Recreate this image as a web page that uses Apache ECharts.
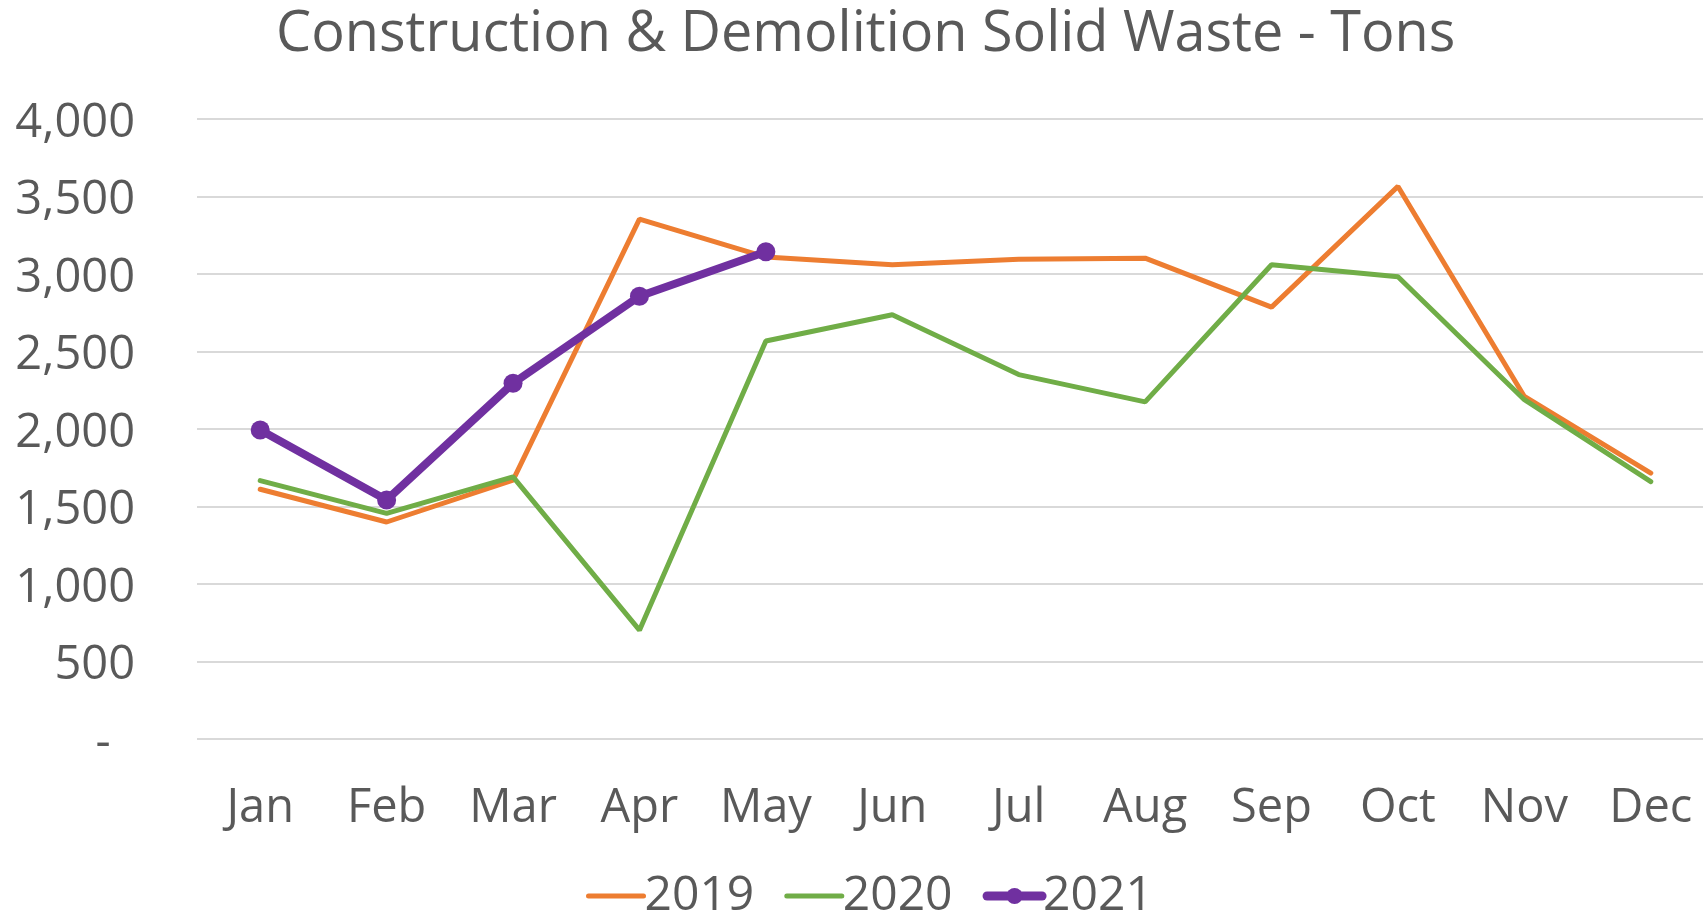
<!DOCTYPE html>
<html>
<head>
<meta charset="utf-8">
<script src="https://cdn.jsdelivr.net/npm/echarts@6/dist/echarts.min.js"></script>
<style>
html,body{margin:0;padding:0;background:#fff;}
#chart{width:1703px;height:916px;}
</style>
</head>
<body>
<div id="chart"></div>
<script>
var months = ['Jan','Feb','Mar','Apr','May','Jun','Jul','Aug','Sep','Oct','Nov','Dec'];
var tons2019 = [1611,1400,1670,3354,3109,3060,3095,3102,2786,3565,2210,1716];
var tons2020 = [1667,1456,1691,702,2568,2737,2351,2175,3060,2982,2189,1660];
var tons2021 = [1994,1542,2295,2856,3144];
var yTicks = [0,500,1000,1500,2000,2500,3000,3500,4000];

var textColor = '#595959';
var font = '"Open Sans", sans-serif';

var chart = echarts.init(document.getElementById('chart'));
chart.setOption({
    animation:false,
    backgroundColor:'#fff',
    title:{
        text:'Construction & Demolition Solid Waste - Tons',
        left:276,
        top:7,
        padding:0,
        textStyle:{color:textColor,fontFamily:font,fontSize:55.8,fontWeight:'normal'}
    },
    legend:{
        bottom:-4,
        left:586,
        padding:0,
        itemWidth:55,
        itemHeight:20,
        itemGap:30,
        textStyle:{color:textColor,fontFamily:font,fontSize:48,padding:[0,0,0,-4]},
        data:[
            {name:'2019',itemStyle:{opacity:0},lineStyle:{width:5}},
            {name:'2020',itemStyle:{opacity:0},lineStyle:{width:5}},
            {name:'2021',lineStyle:{width:9}}
        ]
    },
    grid:{left:197,width:1517,top:119,bottom:177,containLabel:false,outerBoundsMode:'none'},
    xAxis:{
        type:'category',
        data:months,
        boundaryGap:true,
        axisLine:{show:false},
        axisTick:{show:false},
        axisLabel:{color:textColor,fontFamily:font,fontSize:47,margin:46}
    },
    yAxis:{
        type:'value',
        min:yTicks[0],
        max:yTicks[yTicks.length-1],
        interval:500,
        axisLine:{show:false},
        axisTick:{show:false},
        splitLine:{lineStyle:{color:'#d9d9d9',width:2}},
        axisLabel:{
            color:textColor,fontFamily:font,fontSize:47,margin:62,
            verticalAlign:'top',lineHeight:47,padding:[-19,0,0,0],
            formatter:function(v){return v===0 ? '-  ' : v.toLocaleString('en-US');}
        }
    },
    series:[
        {
            name:'2019',type:'line',data:tons2019,
            symbol:'none',
            lineStyle:{color:'#ED7D31',width:5,cap:'round'},
            itemStyle:{color:'#ED7D31'}
        },
        {
            name:'2020',type:'line',data:tons2020,
            symbol:'none',
            lineStyle:{color:'#70AD47',width:5,cap:'round'},
            itemStyle:{color:'#70AD47'}
        },
        {
            name:'2021',type:'line',data:tons2021,
            symbol:'circle',symbolSize:19,
            lineStyle:{color:'#7030A0',width:8,cap:'round'},
            itemStyle:{color:'#7030A0'}
        }
    ]
});
</script>
</body>
</html>
